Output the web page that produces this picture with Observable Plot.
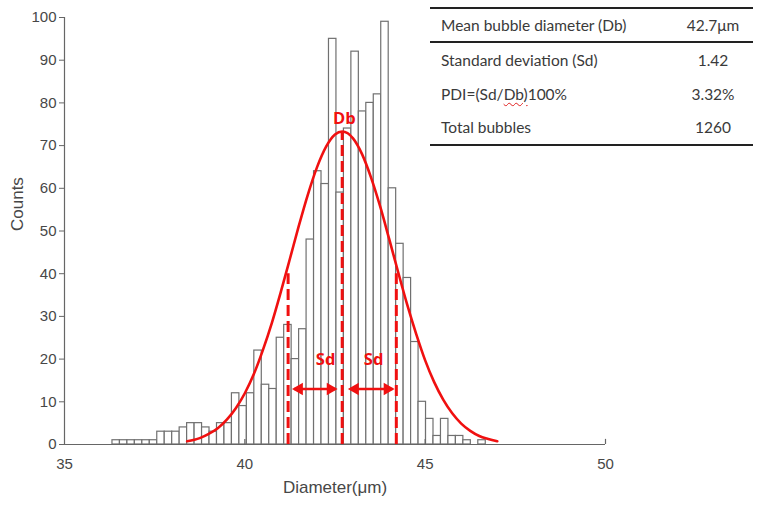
<!DOCTYPE html>
<html>
<head>
<meta charset="utf-8">
<script src="https://cdn.jsdelivr.net/npm/d3@7"></script>
<script src="https://cdn.jsdelivr.net/npm/@observablehq/plot@0.6"></script>
<style>
  html, body { margin: 0; padding: 0; background: #fff; }
  #wrap { position: relative; width: 765px; height: 507px; overflow: hidden; }
  #stats { position: absolute; left: 430px; top: 7px; width: 323px; border-collapse: collapse;
           font-family: Lato, "Open Sans", sans-serif; font-size: 15.5px; color: #3a3a3a; }
  #stats td { padding: 0; vertical-align: middle; white-space: nowrap; }
  #stats td.k { padding-left: 11px; width: 239px; }
  #stats td.v { text-align: center; width: 84px; }
  #stats tr.head td { border-top: 2px solid #222; border-bottom: 2px solid #222; height: 32px; }
  #stats tr.last td { border-bottom: 2px solid #222; }
  .wavy { text-decoration: underline wavy #e02020; text-decoration-thickness: 1px; text-underline-offset: 2px; }
</style>
</head>
<body>
<div id="wrap"></div>
<script>
// ---- data ----
const xTicks = [35, 40, 45, 50];
const yTicks = [0, 10, 20, 30, 40, 50, 60, 70, 80, 90, 100];
const binStart = 36.33;
const binWidth = 0.207;
const counts = [1, 1, 1, 1, 1, 1, 3, 3, 3, 4,
                5, 5, 4, 3, 5, 5, 12, 9, 12, 22,
                14, 13, 25, 28, 20, 27, 48, 64, 61, 95,
                59, 74, 92, 78, 80, 82, 99, 60, 47, 39,
                24, 10, 6, 2, 6, 2, 2, 1, 0, 1];
const curveX = [38.4, 38.75, 39.0, 39.25, 39.5, 39.75, 40.0, 40.25, 40.5, 40.75,
                41.0, 41.25, 41.5, 41.75, 42.0, 42.25, 42.5, 42.7, 43.0, 43.25,
                43.5, 43.75, 44.0, 44.25, 44.5, 44.75, 45.0, 45.25, 45.5, 45.75,
                46.0, 46.25, 46.5, 46.75, 47.0];
const curveY = [0.75, 1.5, 2.5, 3.8, 5.8, 8.5, 12.0, 16.5, 22.1, 28.5,
                35.8, 43.5, 51.3, 58.6, 64.9, 69.7, 72.6, 73.3, 71.7, 68.0,
                62.5, 55.8, 48.2, 40.4, 32.8, 25.9, 19.7, 14.6, 10.5, 7.3,
                4.9, 3.2, 2.0, 1.3, 0.75];
const guideX = [41.2, 42.7, 44.2];
const guideTop = [40, 73, 40];
const arrowFrom = [41.37, 42.92];
const arrowTo = [42.51, 44.09];
const arrowY = 13;
const noteText = ["Db", "Sd", "Sd"];
const noteX = [42.76, 42.24, 43.57];
const noteY = [76.3, 19.9, 19.9];
const statLabels = ["Mean bubble diameter (Db)", "Standard deviation (Sd)", "PDI=(Sd/Db)100%", "Total bubbles"];
const statValues = ["42.7μm", "1.42", "3.32%", "1260"];

// ---- build tables for the library ----
const bins = counts.map((c, i) => ({x1: binStart + i * binWidth, x2: binStart + (i + 1) * binWidth, count: c}));
const curve = curveX.map((x, i) => ({x, y: curveY[i]}));
const guides = guideX.map((x, i) => ({x, top: guideTop[i]}));
const arrows = arrowFrom.map((a, i) => ({a, b: arrowTo[i], y: arrowY}));
const notes = noteText.map((t, i) => ({t, x: noteX[i], y: noteY[i]}));

const red = "#f01010";
const axisColor = "#666";
const textColor = "#474747";

const chart = Plot.plot({
  width: 765,
  height: 507,
  marginLeft: 64,
  marginRight: 160,
  marginTop: 17,
  marginBottom: 63,
  x: {domain: [35, 50]},
  y: {domain: [0, 100]},
  style: {fontFamily: "'Liberation Sans', Arial, sans-serif", fontSize: "15px", color: textColor, background: "white"},
  marks: [
    Plot.rectY(bins, {x1: "x1", x2: "x2", y: "count", fill: "white", stroke: "#707070", strokeWidth: 1.2}),
    Plot.ruleX(guides, {x: "x", y1: 0, y2: "top", stroke: red, strokeWidth: 3, strokeDasharray: "11,5"}),
    Plot.link(arrows, {x1: "a", x2: "b", y1: "y", y2: "y", stroke: red, strokeWidth: 2.5}),
    Plot.dot(arrows, {x: "a", y: "y", symbol: "triangle2", rotate: -90, r: 6, fill: red, dx: 5}),
    Plot.dot(arrows, {x: "b", y: "y", symbol: "triangle2", rotate: 90, r: 6, fill: red, dx: -5}),
    Plot.lineY(curve, {x: "x", y: "y", stroke: red, strokeWidth: 2.6, curve: "monotone-x"}),
    Plot.text(notes, {x: "x", y: "y", text: "t", fill: red, fontWeight: "bold", fontSize: 16.5,
                      fontFamily: "'Open Sans', sans-serif"}),
    Plot.ruleY([0], {stroke: axisColor, strokeWidth: 1.2}),
    Plot.ruleX([35], {stroke: axisColor, strokeWidth: 1.2}),
    Plot.ruleX(xTicks.slice(1), {y1: 0, y2: 1.2, stroke: axisColor, strokeWidth: 1.2}),
    Plot.axisY({ticks: yTicks, tickSize: 5, tickPadding: 3, stroke: axisColor, label: null, fontSize: 15}),
    Plot.axisX({ticks: xTicks, tickSize: 0, tickPadding: 14, label: null, fontSize: 15}),
    Plot.text(["Counts"], {frameAnchor: "left", dx: -47, rotate: -90, fontSize: 17, fill: textColor}),
    Plot.text(["Diameter(μm)"], {frameAnchor: "bottom", dy: 48, fontSize: 17, fill: textColor})
  ]
});

const wrap = document.getElementById("wrap");
wrap.appendChild(chart);

// stats table overlay
const table = document.createElement("table");
table.id = "stats";
const heights = [32, 34, 33, 34];
statLabels.forEach((lab, i) => {
  const tr = document.createElement("tr");
  if (i === 0) tr.className = "head";
  if (i === statLabels.length - 1) tr.className = "last";
  const k = document.createElement("td");
  k.className = "k";
  if (lab.includes("(Sd/Db)")) {
    k.innerHTML = lab.replace("Db)", "<span class='wavy'>Db)</span>");
  } else {
    k.textContent = lab;
  }
  const v = document.createElement("td");
  v.className = "v";
  v.textContent = statValues[i];
  k.style.height = heights[i] + "px";
  v.style.height = heights[i] + "px";
  tr.appendChild(k);
  tr.appendChild(v);
  table.appendChild(tr);
});
wrap.appendChild(table);
</script>
</body>
</html>
